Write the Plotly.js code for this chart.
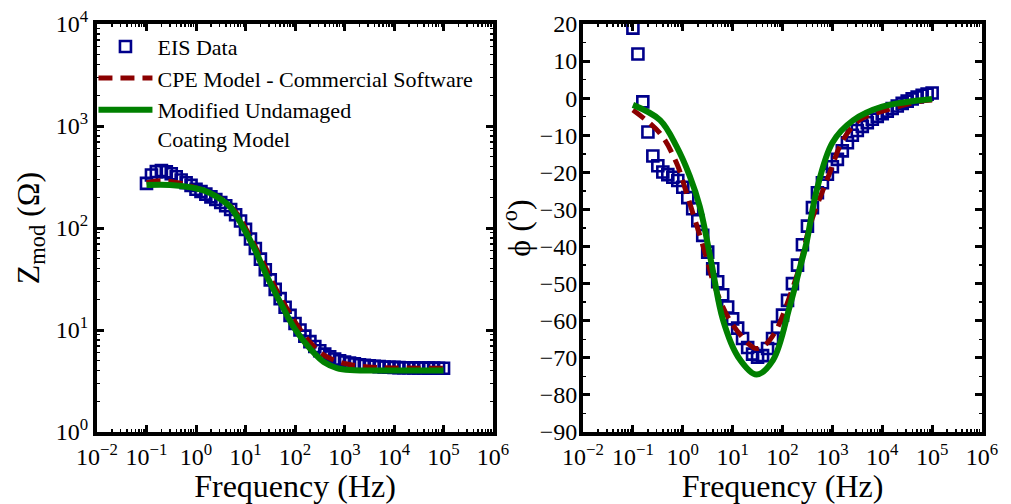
<!DOCTYPE html>
<html>
<head>
<meta charset="utf-8">
<script src="https://cdn.plot.ly/plotly-3.0.1.min.js"></script>
<style>
  html, body { margin: 0; padding: 0; background: #fff; }
  #chart { width: 1011px; height: 504px; }
</style>
</head>
<body>
<div id="chart"></div>
<script>
// Measured EIS frequencies (Hz), 10 points per decade
const freq = [
  0.1, 0.126, 0.158, 0.2, 0.251, 0.316, 0.398, 0.501, 0.631, 0.794,
  1, 1.26, 1.58, 2, 2.51, 3.16, 3.98, 5.01, 6.31, 7.94,
  10, 12.6, 15.8, 20, 25.1, 31.6, 39.8, 50.1, 63.1, 79.4,
  100, 126, 158, 200, 251, 316, 398, 501, 631, 794,
  1000, 1260, 1580, 2000, 2510, 3160, 3980, 5010, 6310, 7940,
  10000, 12600, 15800, 20000, 25100, 31600, 39800, 50100, 63100, 79400, 100000
];

// Impedance modulus of the EIS data (ohm)
const zData = [
  274, 331, 357, 366, 356, 340, 318, 296, 278, 262,
  240, 228, 215, 202, 190, 178, 165, 152, 135, 117,
  97, 78, 63, 49.5, 39, 31, 25, 20.3, 16.7, 13.9,
  11.6, 10.0, 8.7, 7.7, 6.9, 6.25, 5.8, 5.45, 5.2, 5.0,
  4.85, 4.74, 4.65, 4.57, 4.5, 4.45, 4.41, 4.37, 4.34, 4.32,
  4.3, 4.28, 4.27, 4.26, 4.25, 4.24, 4.24, 4.23, 4.23, 4.22, 4.22
];

// Phase angle of the EIS data (degrees)
const phData = [
  18.9, 11.9, -1.0, -9.1, -15.6, -18.2, -19.9, -20.6, -21.3, -22.2,
  -24, -26.8, -29.8, -33, -37, -41.5, -46, -49.5, -53, -56.3,
  -59.5, -62, -64.8, -67.2, -69, -69.8, -69.4, -67.5, -64.8, -61.8,
  -58.5, -54.5, -50, -45, -39.5, -34.5, -29.5, -25.5, -22.8, -20.5,
  -18.5, -16.5, -14.2, -12, -10, -8.7, -7.6, -6.6, -5.7, -4.9,
  -4.2, -3.5, -2.8, -2.1, -1.4, -0.8, -0.2, 0.3, 0.8, 1.1, 1.4
];

// CPE model (commercial software fit)
const cpeZFreq = [0.1, 0.2, 0.4, 0.7, 1, 2, 4, 7, 10, 20, 40, 70, 100, 200, 400, 1000, 3000, 10000, 100000];
const cpeZ     = [278, 290, 280, 262, 248, 218, 180, 135, 100, 52, 26, 16, 12, 7.6, 5.6, 4.7, 4.35, 4.25, 4.22];
const cpePhFreq = [0.1, 0.35, 0.75, 1.19, 2.76, 4.4, 8.7, 22, 30, 45, 75, 139, 220, 350, 880, 1630, 3500, 12000, 56000, 100000];
const cpePh     = [-3.2, -9.5, -17.5, -25.6, -41.4, -50.8, -59.8, -66.5, -67.5, -66.5, -62.5, -53.5, -45.4, -34.6, -20.2, -11.3, -5.9, -3.2, -0.9, -0.5];

// Modified undamaged coating model
const modZFreq = [0.1, 0.3, 0.66, 1.38, 2.6, 4.9, 8.9, 15.6, 28, 54, 100, 210, 380, 700, 1300, 10000, 100000];
const modZ     = [264, 264, 254, 235, 203, 161, 102, 61, 32.5, 17.5, 10.2, 6.4, 4.85, 4.24, 4.05, 4.0, 4.0];
const modPhFreq = [0.1, 0.35, 0.75, 1.38, 2.19, 3.76, 6.4, 12.8, 30, 64.5, 139, 220, 302, 480, 1000, 2600, 10000, 100000];
const modPh     = [-1.8, -5.9, -13, -21, -29.2, -44.5, -59.8, -69.7, -74.5, -70.6, -56.2, -46, -39, -25, -12, -6, -2.3, -0.2];

// Axis tick values and labels
const freqTicks = [1e-2, 1e-1, 1e0, 1e1, 1e2, 1e3, 1e4, 1e5, 1e6];
const freqTickText = ['10<sup>−2</sup>', '10<sup>−1</sup>', '10<sup>0</sup>', '10<sup>1</sup>', '10<sup>2</sup>',
                      '10<sup>3</sup>', '10<sup>4</sup>', '10<sup>5</sup>', '10<sup>6</sup>'];
const zTicks = [1e0, 1e1, 1e2, 1e3, 1e4];
const zTickText = ['10<sup>0</sup>', '10<sup>1</sup>', '10<sup>2</sup>', '10<sup>3</sup>', '10<sup>4</sup>'];

const seriesNames = ['EIS Data', 'CPE Model - Commercial Software', 'Modified Undamaged<br>Coating Model'];

const FONT = 'Liberation Serif, Times New Roman, Times, serif';
const BLUE = '#00008B', RED = '#8B0000', GREEN = '#008000';

// log-scale minor tick positions (2..9 within each decade)
function logMinor(lo, hi) {
  const out = [];
  for (let e = lo; e < hi; e++) for (let m = 2; m <= 9; m++) out.push(m * Math.pow(10, e));
  return out;
}

const markerStyle = { symbol: 'square-open', size: 11, color: BLUE, line: { width: 2.6, color: BLUE } };
const cpeLine = { color: RED, width: 5, dash: '14px,8px', shape: 'spline', smoothing: 1 };
const modLine = { color: GREEN, width: 6, shape: 'spline', smoothing: 1 };

const traces = [
  { x: freq, y: zData, type: 'scatter', mode: 'markers', marker: markerStyle,
    name: seriesNames[0], xaxis: 'x', yaxis: 'y', legendgroup: 'a' },
  { x: cpeZFreq, y: cpeZ, type: 'scatter', mode: 'lines', line: cpeLine,
    name: seriesNames[1], xaxis: 'x', yaxis: 'y', legendgroup: 'b' },
  { x: modZFreq, y: modZ, type: 'scatter', mode: 'lines', line: modLine,
    name: seriesNames[2], xaxis: 'x', yaxis: 'y', legendgroup: 'c' },
  { x: freq, y: phData, type: 'scatter', mode: 'markers', marker: markerStyle,
    name: seriesNames[0], xaxis: 'x2', yaxis: 'y2', showlegend: false },
  { x: cpePhFreq, y: cpePh, type: 'scatter', mode: 'lines', line: cpeLine,
    name: seriesNames[1], xaxis: 'x2', yaxis: 'y2', showlegend: false },
  { x: modPhFreq, y: modPh, type: 'scatter', mode: 'lines', line: modLine,
    name: seriesNames[2], xaxis: 'x2', yaxis: 'y2', showlegend: false }
];

const tickFont = { family: FONT, size: 24, color: '#000' };
const titleFont = { family: FONT, size: 32, color: '#000' };

function frame(extra) {
  return Object.assign({
    showline: true, linewidth: 4, linecolor: '#000', mirror: 'ticks',
    ticks: 'inside', ticklen: 7, tickwidth: 3, tickcolor: '#000',
    showgrid: false, zeroline: false, tickfont: tickFont, automargin: false
  }, extra);
}

const xCommon = {
  type: 'log', range: [-2, 6], tickmode: 'array', tickvals: freqTicks, ticktext: freqTickText,
  minor: { tickmode: 'array', tickvals: logMinor(-2, 6), ticks: 'inside', ticklen: 3, tickwidth: 1.5, tickcolor: '#000' },
  title: { text: 'Frequency (Hz)', font: titleFont, standoff: 4 }
};

const layout = {
  width: 1011, height: 504,
  margin: { l: 97, r: 29, t: 24, b: 72 },
  paper_bgcolor: '#fff', plot_bgcolor: '#fff',
  font: { family: FONT, color: '#000' },
  showlegend: true,
  legend: {
    x: -0.004, y: 0.996, xanchor: 'left', yanchor: 'top',
    bgcolor: 'rgba(0,0,0,0)', borderwidth: 0,
    font: { family: FONT, size: 22, color: '#000' },
    itemwidth: 54, valign: 'top', tracegroupgap: 0
  },
  xaxis: frame(Object.assign({ domain: [0, 0.4475], anchor: 'y' }, xCommon)),
  yaxis: frame({
    type: 'log', range: [0, 4], tickmode: 'array', tickvals: zTicks, ticktext: zTickText,
    minor: { tickmode: 'array', tickvals: logMinor(0, 4), ticks: 'inside', ticklen: 3, tickwidth: 1.5, tickcolor: '#000' },
    title: { text: 'Z<sub>mod</sub> (Ω)', font: titleFont, standoff: 8 }, anchor: 'x'
  }),
  xaxis2: frame(Object.assign({ domain: [0.5492, 1], anchor: 'y2' }, xCommon)),
  yaxis2: frame({
    range: [-90, 20], tickmode: 'linear', tick0: -90, dtick: 10,
    minor: { dtick: 5, ticks: 'inside', ticklen: 3, tickwidth: 1.5, tickcolor: '#000' },
    ticklabelstandoff: -3,
    title: { text: 'ϕ (<sup>o</sup>)', font: titleFont, standoff: 0 }, anchor: 'x2'
  })
};

Plotly.newPlot('chart', traces, layout, { displayModeBar: false, staticPlot: true });
</script>
</body>
</html>
